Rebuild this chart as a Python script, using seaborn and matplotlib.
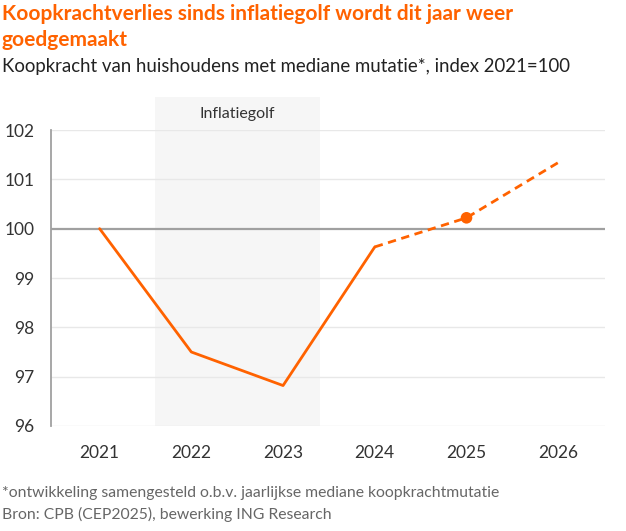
import matplotlib
matplotlib.use("Agg")
import matplotlib.pyplot as plt
import seaborn as sns
import pandas as pd

years = [2021, 2022, 2023, 2024, 2025, 2026]
koopkracht = [100.0, 97.5, 96.82, 99.63, 100.22, 101.34]
realised_years = [2021, 2022, 2023, 2024]
forecast_years = [2024, 2025, 2026]
marker_year = 2025
y_ticks = [96, 97, 98, 99, 100, 101, 102]
wave_start, wave_end = 2021.6, 2023.4

title = "Koopkrachtverlies sinds inflatiegolf wordt dit jaar weer\ngoedgemaakt"
subtitle = "Koopkracht van huishoudens met mediane mutatie*, index 2021=100"
footnote = "*ontwikkeling samengesteld o.b.v. jaarlijkse mediane koopkrachtmutatie\nBron: CPB (CEP2025), bewerking ING Research"

df = pd.DataFrame({"year": years, "value": koopkracht})
df_real = df[df["year"].isin(realised_years)]
df_fc = df[df["year"].isin(forecast_years)]
df_mark = df[df["year"] == marker_year]

sns.set_theme(style="white")
plt.rcParams["font.family"] = ["Lato", "DejaVu Sans"]

ORANGE = "#FF6200"
TXT = "#333333"

fig = plt.figure(figsize=(6.26, 5.31), dpi=100)
ax = fig.add_axes([51 / 626, 1 - 426 / 531, (605 - 51) / 626, (426 - 130) / 531])

ax.set_xlim(2020.47, 2026.51)
ax.set_ylim(96, 102)

ax.axvspan(wave_start, wave_end, ymin=0, ymax=1.11, color="#f6f6f6", zorder=0, clip_on=False, lw=0)
ax.text((wave_start + wave_end) / 2, 102.33, "Inflatiegolf", ha="center", va="center",
        fontsize=11.5, color=TXT)

for t in y_ticks:
    if t == 100:
        ax.axhline(t, color="#a0a0a0", lw=1.6, zorder=1)
    else:
        ax.axhline(t, color="#e8e8e8", lw=1.0, zorder=1)

sns.lineplot(data=df_real, x="year", y="value", ax=ax, color=ORANGE, lw=2, zorder=3)
sns.lineplot(data=df_fc, x="year", y="value", ax=ax, color=ORANGE, lw=2, zorder=3,
             linestyle=(0, (3, 2)))
sns.scatterplot(data=df_mark, x="year", y="value", ax=ax, color=ORANGE, s=70,
                edgecolor="none", zorder=4)

ax.set_xticks(years)
ax.set_xticklabels([str(y) for y in years])
ax.set_yticks(y_ticks)
ax.set_xlabel("")
ax.set_ylabel("")
ax.tick_params(axis="both", labelsize=12.5, colors=TXT, length=0)
ax.tick_params(axis="x", pad=14)
ax.tick_params(axis="y", pad=12)

for s in ["top", "right", "bottom"]:
    ax.spines[s].set_visible(False)
ax.spines["left"].set_color("#a0a0a0")
ax.spines["left"].set_linewidth(1.3)

fig.text(2 / 626, 1 - 4 / 531, title, ha="left", va="top", fontsize=15, fontweight="bold",
         color=ORANGE, linespacing=1.35)
fig.text(2 / 626, 1 - 58 / 531, subtitle, ha="left", va="top", fontsize=13.4, color="#222222")
fig.text(2 / 626, 1 - 486 / 531, footnote, ha="left", va="top", fontsize=11.3, color="#666666",
         linespacing=1.6)

fig.savefig("out.png", dpi=100)
